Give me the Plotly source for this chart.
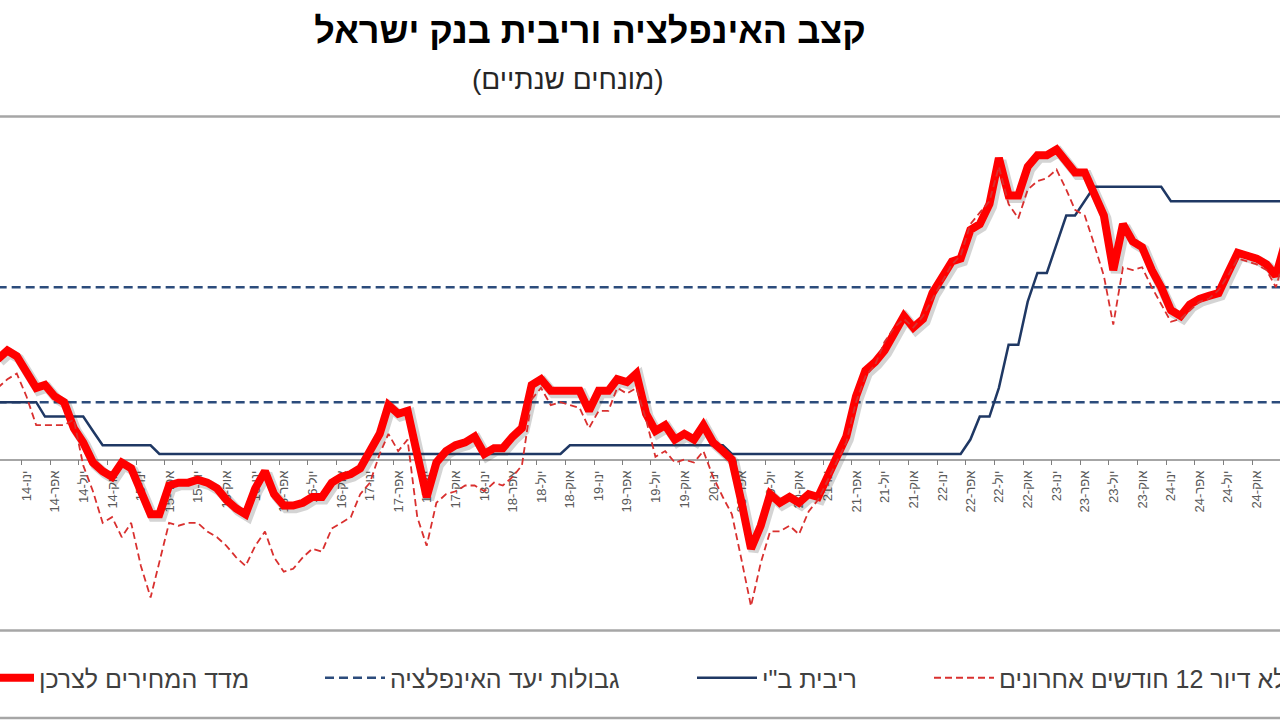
import pandas as pd
import plotly.graph_objects as go

# ---------------- data (monthly, Oct-2013 .. Jan-2025) ----------------
months = pd.date_range("2013-10-01", "2025-01-01", freq="MS")

cpi = [
    1.75, 1.9, 1.8,
    1.55, 1.25, 1.3, 1.1, 1.0, 0.55, 0.3, -0.05, -0.2, -0.3, -0.05, -0.15,
    -0.55, -0.95, -0.95, -0.45, -0.4, -0.4, -0.35, -0.4, -0.5, -0.7, -0.85, -0.95,
    -0.5, -0.2, -0.6, -0.8, -0.8, -0.75, -0.65, -0.65, -0.4, -0.3, -0.25, -0.15,
    0.15, 0.45, 0.95, 0.8, 0.85, 0.1, -0.65, -0.05, 0.15, 0.25, 0.3, 0.4,
    0.1, 0.2, 0.2, 0.4, 0.55, 1.3, 1.4, 1.2, 1.2, 1.2, 1.2, 0.85,
    1.2, 1.2, 1.4, 1.35, 1.5, 0.8, 0.5, 0.6, 0.35, 0.45, 0.35, 0.6,
    0.3, 0.15, 0.0, -0.75, -1.55, -1.15, -0.6, -0.75, -0.65, -0.75, -0.6, -0.65,
    -0.3, 0.05, 0.4, 1.1, 1.55, 1.7, 1.9, 2.2, 2.5, 2.3, 2.45, 2.9,
    3.15, 3.45, 3.5, 4.0, 4.1, 4.45, 5.25, 4.6, 4.6, 5.1, 5.3, 5.3,
    5.4, 5.2, 5.0, 5.0, 4.65, 4.25, 3.3, 4.1, 3.8, 3.7, 3.3, 3.0,
    2.6, 2.5, 2.7, 2.8, 2.85, 2.9, 3.25, 3.6, 3.55, 3.5, 3.4, 3.2,
    3.8,
]

cpi_ex_housing = [
    1.25, 1.4, 1.5,
    1.1, 0.6, 0.6, 0.6, 0.6, 0.7, -0.1, -0.55, -1.1, -1.0, -1.35, -1.1,
    -1.85, -2.4, -1.8, -1.1, -1.15, -1.1, -1.1, -1.25, -1.35, -1.5, -1.7, -1.85,
    -1.5, -1.25, -1.7, -1.95, -1.9, -1.7, -1.55, -1.6, -1.2, -1.1, -1.0, -0.6,
    -0.4, 0.1, 0.45, 0.15, 0.35, -1.0, -1.5, -0.75, -0.6, -0.55, -0.45, -0.45,
    -0.55, -0.4, -0.45, -0.3, -0.1, 1.05, 1.25, 0.95, 1.0, 0.95, 0.9, 0.55,
    0.85, 0.85, 1.25, 1.15, 1.25, 0.7, 0.05, 0.15, -0.05, 0.0, -0.05, 0.15,
    -0.3, -0.65, -0.95, -1.75, -2.55, -1.8, -1.25, -1.25, -1.15, -1.3, -0.9, -0.7,
    -0.35, 0.0, 0.3, 1.0, 1.45, 1.65, 2.05, 2.3, 2.45, 2.3, 2.5, 2.8,
    3.1, 3.4, 3.55, 4.1, 4.3, 4.5, 5.1, 4.45, 4.2, 4.7, 4.85, 4.9,
    5.05, 4.7, 4.35, 4.25, 3.75, 3.2, 2.35, 3.35, 3.3, 3.35, 3.0, 2.7,
    2.4, 2.45, 2.6, 2.75, 2.8, 2.95, 3.2, 3.5, 3.45, 3.4, 3.3, 3.0,
    3.6,
]

boi_rate = [
    1.0, 1.0, 1.0,
    1.0, 1.0, 0.75, 0.75, 0.75, 0.75, 0.75, 0.5, 0.25, 0.25, 0.25, 0.25,
    0.25, 0.25, 0.1, 0.1, 0.1, 0.1, 0.1, 0.1, 0.1, 0.1, 0.1, 0.1,
    0.1, 0.1, 0.1, 0.1, 0.1, 0.1, 0.1, 0.1, 0.1, 0.1, 0.1, 0.1,
    0.1, 0.1, 0.1, 0.1, 0.1, 0.1, 0.1, 0.1, 0.1, 0.1, 0.1, 0.1,
    0.1, 0.1, 0.1, 0.1, 0.1, 0.1, 0.1, 0.1, 0.1, 0.25, 0.25, 0.25,
    0.25, 0.25, 0.25, 0.25, 0.25, 0.25, 0.25, 0.25, 0.25, 0.25, 0.25, 0.25,
    0.25, 0.25, 0.1, 0.1, 0.1, 0.1, 0.1, 0.1, 0.1, 0.1, 0.1, 0.1,
    0.1, 0.1, 0.1, 0.1, 0.1, 0.1, 0.1, 0.1, 0.1, 0.1, 0.1, 0.1,
    0.1, 0.1, 0.1, 0.35, 0.75, 0.75, 1.25, 2.0, 2.0, 2.75, 3.25, 3.25,
    3.75, 4.25, 4.25, 4.5, 4.75, 4.75, 4.75, 4.75, 4.75, 4.75, 4.75, 4.75,
    4.5, 4.5, 4.5, 4.5, 4.5, 4.5, 4.5, 4.5, 4.5, 4.5, 4.5, 4.5,
    4.5,
]

target_lower = 1.0
target_upper = 3.0

quarter_names = {1: "ינו", 4: "אפר", 7: "יול", 10: "אוק"}
tick_months = list(months[::3])
tick_labels = [f"{quarter_names[d.month]}-{d.strftime('%y')}" for d in tick_months]

name_cpi = "מדד המחירים לצרכן"
name_bounds = "גבולות יעד האינפלציה"
name_rate = 'ריבית ב"י'
name_exh = "מדד ללא דיור 12 חודשים אחרונים"
title_text = "קצב האינפלציה וריבית בנק ישראל"
subtitle_text = "(מונחים שנתיים)"

# ---------------- styling ----------------
RED = "#ff0000"
RED_DASH = "#d9302f"
NAVY = "#1f3864"
NAVY_DASH = "#2c4c7c"
GRAY_TXT = "#595959"
LEG_TXT = "#404040"
ARIAL = "Liberation Sans, Arial, sans-serif"

x0 = pd.Timestamp("2013-10-08 10:30")
x1 = pd.Timestamp("2024-12-14 02:00")
shadow_dx = pd.Timedelta(days=8)
y_range = [-3, 6]
shadow_dy = 0.045
PLOT_TOP, PLOT_BOTTOM = 115, 632
PLOT_H = PLOT_BOTTOM - PLOT_TOP


def paper_y(px):
    return (PLOT_BOTTOM - px) / PLOT_H


fig = go.Figure()

# inflation target bounds
fig.add_trace(go.Scatter(
    x=months, y=[target_upper] * len(months), mode="lines", name=name_bounds,
    line=dict(color=NAVY_DASH, width=2.5, dash="9px,5px"),
    legend="legend2", legendgroup="bounds", hoverinfo="skip"))
fig.add_trace(go.Scatter(
    x=months, y=[target_lower] * len(months), mode="lines", name=name_bounds,
    line=dict(color=NAVY_DASH, width=2.5, dash="9px,5px"),
    legend="legend2", legendgroup="bounds", showlegend=False, hoverinfo="skip"))

# Bank of Israel rate
fig.add_trace(go.Scatter(
    x=months, y=boi_rate, mode="lines", name=name_rate,
    line=dict(color=NAVY, width=2.5), legend="legend3"))

# shadow of CPI line (same data, axes shifted a few pixels)
fig.add_trace(go.Scatter(
    x=months, y=cpi, mode="lines", xaxis="x2", yaxis="y2",
    line=dict(color="rgba(60,60,60,0.22)", width=10),
    showlegend=False, hoverinfo="skip"))

# CPI
fig.add_trace(go.Scatter(
    x=months, y=cpi, mode="lines", name=name_cpi, xaxis="x3", yaxis="y3",
    line=dict(color=RED, width=8), legend="legend"))

# CPI ex housing
fig.add_trace(go.Scatter(
    x=months, y=cpi_ex_housing, mode="lines", name=name_exh, xaxis="x3", yaxis="y3",
    line=dict(color=RED_DASH, width=1.8, dash="7px,4px"), legend="legend4"))

leg_common = dict(orientation="h", yanchor="middle", y=paper_y(678), xanchor="left",
                  itemwidth=60, bgcolor="rgba(0,0,0,0)",
                  font=dict(family=ARIAL, size=25, color=LEG_TXT))

fig.update_layout(
    width=1280, height=720,
    margin=dict(l=0, r=0, t=PLOT_TOP, b=720 - PLOT_BOTTOM, autoexpand=False),
    paper_bgcolor="white", plot_bgcolor="white",
    title=dict(text=title_text, x=590 / 1280, xanchor="center", xref="paper",
               y=1 - 30 / 720, yanchor="middle", yref="container",
               font=dict(family=ARIAL, size=36, color="#000000", weight="bold")),
    xaxis=dict(
        range=[x0, x1], anchor="free", position=1 / 3, layer="below traces",
        showgrid=False, zeroline=False, showline=True, linecolor="#a6a6a6", linewidth=1.5,
        ticks="outside", ticklen=5, tickwidth=1, tickcolor="#7f7f7f",
        tickvals=[d - pd.Timedelta(days=15) for d in tick_months], ticktext=tick_labels,
        ticklabelshift=5, tickangle=-90,
        tickfont=dict(family=ARIAL, size=13, color=GRAY_TXT)),
    yaxis=dict(range=y_range, visible=False, showgrid=False, zeroline=False),
    xaxis2=dict(range=[x0 - shadow_dx, x1 - shadow_dx], overlaying="x", visible=False, anchor="y2"),
    yaxis2=dict(range=[y_range[0] + shadow_dy, y_range[1] + shadow_dy], overlaying="y",
                visible=False, anchor="x2"),
    xaxis3=dict(range=[x0, x1], overlaying="x", visible=False, anchor="y3"),
    yaxis3=dict(range=y_range, overlaying="y", visible=False, anchor="x3"),
    legend=dict(x=-31 / 1280, **leg_common),
    legend2=dict(x=320 / 1280, **leg_common),
    legend3=dict(x=692 / 1280, **leg_common),
    legend4=dict(x=929 / 1280, **leg_common),
    annotations=[dict(text=subtitle_text, x=568 / 1280, y=paper_y(80), xref="paper",
                      yref="paper", showarrow=False, xanchor="center", yanchor="middle",
                      font=dict(family=ARIAL, size=28, color="#262626"))],
    shapes=[
        dict(type="line", xref="paper", yref="paper", x0=0, x1=1,
             y0=paper_y(116.5), y1=paper_y(116.5), line=dict(color="#a6a6a6", width=2.5)),
        dict(type="line", xref="paper", yref="paper", x0=0, x1=1,
             y0=paper_y(630.5), y1=paper_y(630.5), line=dict(color="#a6a6a6", width=2.5)),
        dict(type="line", xref="paper", yref="paper", x0=0, x1=1,
             y0=paper_y(718), y1=paper_y(718), line=dict(color="#a6a6a6", width=2.5)),
    ],
    showlegend=True,
)

fig.write_html("out.html", post_script="document.body.style.margin='0';")
